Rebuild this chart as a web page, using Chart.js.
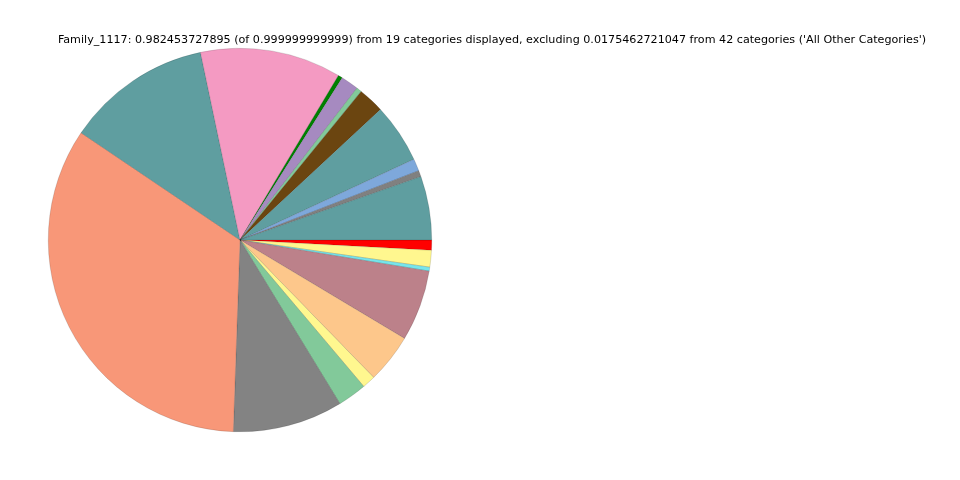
<html lang="en">
<head>
    <meta charset="UTF-8">
    <title>Family_1117</title>
    <script src="https://cdn.jsdelivr.net/npm/chart.js"></script>
    <style>
      body {
          background-color: #fff;
          margin: 0;
      }
      #wrap {
          position: relative;
          width: 960px;
          height: 480px;
      }
    </style>
</head>
<body>
    <div id="wrap">
        <canvas id="pieChart" width="960" height="480"></canvas>
    </div>
    <script>
        // slices in matplotlib order (counter-clockwise from 3 o'clock)
        const categories = [
            'Category 1', 'Category 2', 'Category 3', 'Category 4', 'Category 5',
            'Category 6', 'Category 7', 'Category 8', 'Category 9', 'Category 10',
            'Category 11', 'Category 12', 'Category 13', 'Category 14', 'Category 15',
            'Category 16', 'Category 17', 'Category 18', 'Category 19'
        ];
        const fractions = [
            0.05267, 0.00519, 0.01010, 0.04912, 0.02156,
            0.00437, 0.01474, 0.00355, 0.11680, 0.12035,
            0.33294, 0.09115, 0.02402, 0.01092, 0.04066,
            0.05881, 0.00327, 0.01378, 0.00846
        ];
        const sliceColors = [
            '#5f9ea0', '#808080', '#7ea8db', '#5f9ea0', '#6b4510',
            '#82c99a', '#a68ac0', '#008000', '#f49ac2', '#5f9ea0',
            '#f89778', '#838383', '#82c99a', '#fff78f', '#fdc78b',
            '#bc818a', '#77e5eb', '#fff78f', '#ff0000'
        ];
        const titleText = "Family_1117: 0.982453727895 (of 0.999999999999) from 19 categories displayed, excluding 0.0175462721047 from 42 categories ('All Other Categories')";

        // Chart.js goes clockwise, so flip the order and start at 3 o'clock
        const rev = arr => arr.slice().reverse();

        const titlePlugin = {
            id: 'mplTitle',
            afterDraw(chart) {
                const c = chart.ctx;
                c.save();
                c.font = '11.15px "DejaVu Sans"';
                c.fillStyle = '#000';
                c.textAlign = 'center';
                c.textBaseline = 'middle';
                c.fillText(titleText, 492, 40);
                c.restore();
            }
        };

        const ctx = document.getElementById('pieChart').getContext('2d');
        const chart = new Chart(ctx, {
            type: 'pie',
            data: {
                labels: rev(categories),
                datasets: [{
                    data: rev(fractions),
                    backgroundColor: rev(sliceColors),
                    borderColor: 'rgba(0,0,0,0.25)',
                    borderWidth: 0.5
                }]
            },
            options: {
                responsive: false,
                animation: false,
                rotation: 90,
                layout: {
                    padding: { left: 48, right: 528, top: 48, bottom: 48 }
                },
                plugins: {
                    legend: { display: false },
                    tooltip: { enabled: false }
                }
            },
            plugins: [titlePlugin]
        });
    </script>
</body>
</html>
